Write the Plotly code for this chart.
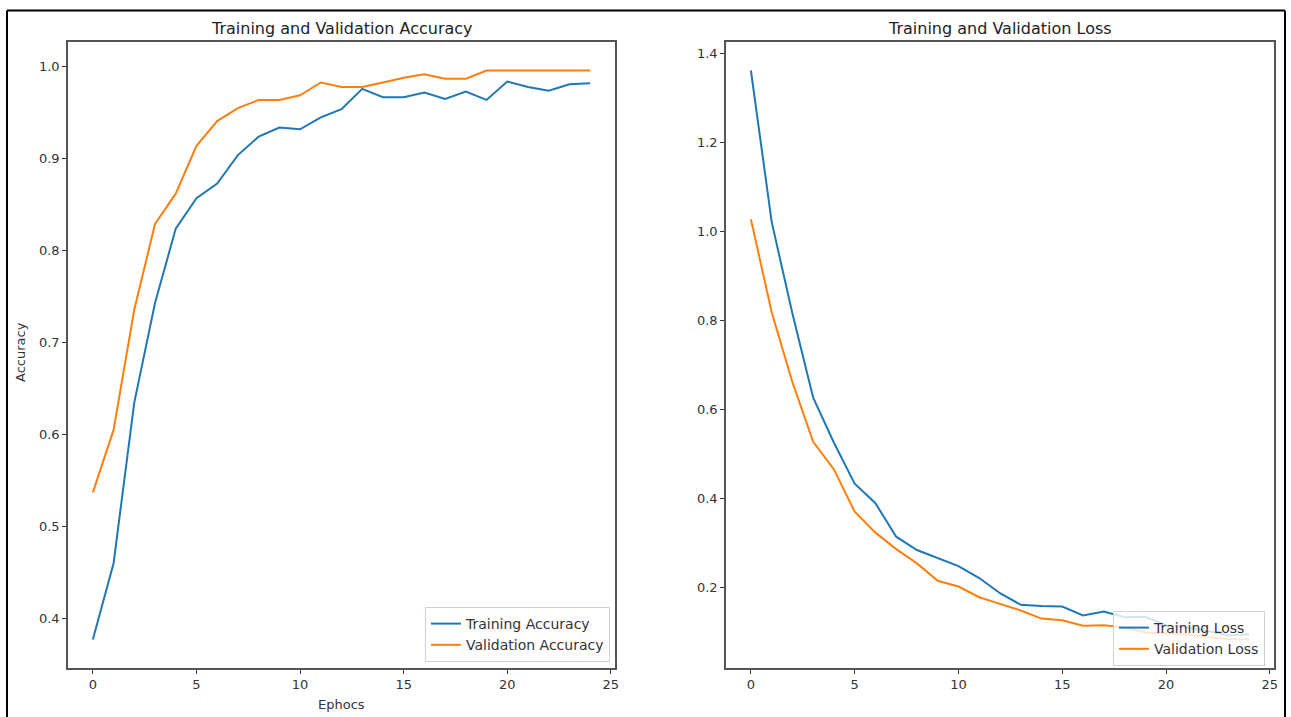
import plotly.graph_objects as go

epochs = list(range(25))
train_acc = [0.377, 0.46, 0.635, 0.743, 0.824, 0.857, 0.873, 0.904, 0.924, 0.934,
             0.932, 0.945, 0.954, 0.976, 0.967, 0.967, 0.972, 0.965, 0.973, 0.964,
             0.984, 0.978, 0.974, 0.981, 0.982]
val_acc = [0.537, 0.605, 0.736, 0.829, 0.862, 0.914, 0.941, 0.955, 0.964, 0.964,
           0.969, 0.983, 0.978, 0.978, 0.983, 0.988, 0.992, 0.987, 0.987, 0.996,
           0.996, 0.996, 0.996, 0.996, 0.996]
train_loss = [1.361, 1.021, 0.815, 0.626, 0.525, 0.433, 0.389, 0.314, 0.284, 0.266,
              0.248, 0.221, 0.187, 0.161, 0.158, 0.157, 0.137, 0.146, 0.133, 0.134,
              0.115, 0.110, 0.102, 0.092, 0.095]
val_loss = [1.027, 0.818, 0.661, 0.527, 0.465, 0.370, 0.323, 0.286, 0.254, 0.215,
            0.202, 0.178, 0.163, 0.148, 0.130, 0.126, 0.114, 0.115, 0.110, 0.099,
            0.097, 0.094, 0.088, 0.084, 0.083]

BLUE = "#1f77b4"
ORANGE = "#ff7f0e"
FONT = "DejaVu Sans"

fig = go.Figure()
fig.add_trace(go.Scatter(x=epochs, y=train_acc, mode="lines", name="Training Accuracy",
                         line=dict(color=BLUE, width=2), xaxis="x", yaxis="y", legend="legend"))
fig.add_trace(go.Scatter(x=epochs, y=val_acc, mode="lines", name="Validation Accuracy",
                         line=dict(color=ORANGE, width=2), xaxis="x", yaxis="y", legend="legend"))
fig.add_trace(go.Scatter(x=epochs, y=train_loss, mode="lines", name="Training Loss",
                         line=dict(color=BLUE, width=2), xaxis="x2", yaxis="y2", legend="legend2"))
fig.add_trace(go.Scatter(x=epochs, y=val_loss, mode="lines", name="Validation Loss",
                         line=dict(color=ORANGE, width=2), xaxis="x2", yaxis="y2", legend="legend2"))

L, R, T, B = 68, 17, 42, 49
W, H = 1291, 717
pw, ph = W - L - R, H - T - B

def px(x):
    return (x - L) / pw

def py(y):
    return (H - B - y) / ph

axis_common = dict(showgrid=False, zeroline=False, showline=True, linecolor="#555555",
                   linewidth=1.5, mirror=True, ticks="outside", ticklen=4, tickwidth=1,
                   automargin=False,
                   tickcolor="#333333", tickfont=dict(family=FONT, size=13, color="#333333"))

fig.update_layout(
    width=W, height=H,
    margin=dict(l=L, r=R, t=T, b=B),
    paper_bgcolor="white", plot_bgcolor="white",
    font=dict(family=FONT, size=13, color="#333333"),
    xaxis=dict(domain=[0, px(615)], range=[-1.2, 25.2], tickvals=[0, 5, 10, 15, 20, 25],
               anchor="y", **axis_common),
    yaxis=dict(domain=[0, 1], range=[0.346, 1.027],
               tickvals=[0.4, 0.5, 0.6, 0.7, 0.8, 0.9, 1.0],
               ticktext=["0.4", "0.5", "0.6", "0.7", "0.8", "0.9", "1.0"],
               anchor="x", **axis_common),
    xaxis2=dict(domain=[px(726), 1], range=[-1.2, 25.2], tickvals=[0, 5, 10, 15, 20, 25],
                anchor="y2", **axis_common),
    yaxis2=dict(domain=[0, 1], range=[0.019, 1.425],
                tickvals=[0.2, 0.4, 0.6, 0.8, 1.0, 1.2, 1.4],
                ticktext=["0.2", "0.4", "0.6", "0.8", "1.0", "1.2", "1.4"],
                anchor="x2", **axis_common),
    legend=dict(x=px(610), y=py(662), xanchor="right", yanchor="bottom",
                bgcolor="rgba(255,255,255,0.8)", bordercolor="#d0d0d0", borderwidth=1,
                font=dict(family=FONT, size=14, color="#333333")),
    legend2=dict(x=px(1265), y=py(666), xanchor="right", yanchor="bottom",
                 bgcolor="rgba(255,255,255,0.8)", bordercolor="#d0d0d0", borderwidth=1,
                 font=dict(family=FONT, size=14, color="#333333")),
    showlegend=True,
    annotations=[
        dict(text="Training and Validation Accuracy", x=(px(68) + px(615)) / 2, y=py(28),
             xref="paper", yref="paper", showarrow=False, xanchor="center", yanchor="middle",
             font=dict(family=FONT, size=16, color="#222222")),
        dict(text="Training and Validation Loss", x=(px(726) + px(1274)) / 2, y=py(28),
             xref="paper", yref="paper", showarrow=False, xanchor="center", yanchor="middle",
             font=dict(family=FONT, size=16, color="#222222")),
        dict(text="Ephocs", x=px(341), y=py(704), xref="paper", yref="paper", showarrow=False,
             xanchor="center", yanchor="middle", font=dict(family=FONT, size=13, color="#333333")),
        dict(text="Accuracy", x=px(20), y=py(352), xref="paper", yref="paper", showarrow=False,
             xanchor="center", yanchor="middle", textangle=-90,
             font=dict(family=FONT, size=13, color="#333333")),
    ],
    shapes=[
        dict(type="line", xref="paper", yref="paper", x0=px(7), x1=px(1285), y0=py(10.5), y1=py(10.5),
             line=dict(color="black", width=2)),
        dict(type="line", xref="paper", yref="paper", x0=px(7), x1=px(7), y0=py(10.5), y1=py(725),
             line=dict(color="black", width=2)),
        dict(type="line", xref="paper", yref="paper", x0=px(1285), x1=px(1285), y0=py(10.5), y1=py(725),
             line=dict(color="black", width=2)),
    ],
)

fig.write_html("out.html", config={"displayModeBar": False},
               post_script="document.body.style.margin='0';document.body.style.overflow='hidden';")
